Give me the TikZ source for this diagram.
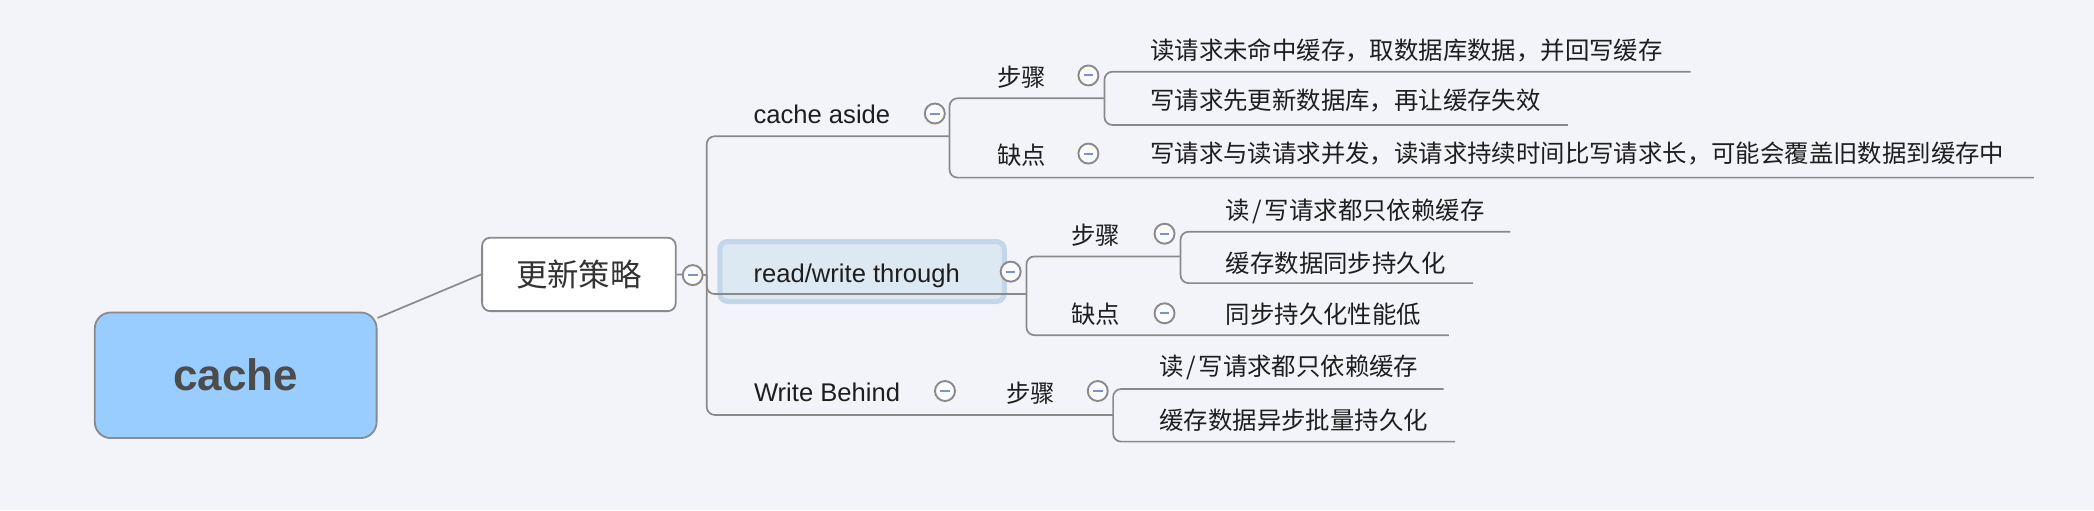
\documentclass[tikz,border=0pt]{standalone}
\usepackage{fontspec}
\setmainfont{Liberation Sans}
\newfontfamily\cjk{Noto Sans CJK SC}
\definecolor{bg}{HTML}{F3F4F9}
\definecolor{ln}{HTML}{8A8A8A}
\definecolor{cacheblue}{HTML}{99CCFF}
\definecolor{rwfill}{HTML}{DCE8F2}
\definecolor{rwedge}{HTML}{C4D6EA}
\definecolor{dashc}{HTML}{8090C8}
\definecolor{txt}{HTML}{1E1E1E}
\tikzset{
  conn/.style={draw=ln, line width=0.85pt, rounded corners=4pt},
  lat/.style={font=\fontsize{12.8pt}{14pt}\selectfont, text=txt, inner sep=0pt, anchor=base west},
  han/.style={font=\cjk\fontsize{12.2pt}{14pt}\selectfont, text=txt, inner sep=0pt, anchor=base west},
  fold/.style={circle, draw=ln, line width=0.95pt, fill=white!60!bg, minimum size=10pt, inner sep=0pt,
    path picture={\draw[dashc, line width=1pt] ([xshift=-2.4pt]path picture bounding box.center) -- ([xshift=2.4pt]path picture bounding box.center);}},
  rootbox/.style={rectangle, rounded corners=8pt, draw=ln, line width=0.9pt, fill=cacheblue,
    minimum width=140.9pt, minimum height=62.8pt, inner sep=0pt,
    font=\bfseries\fontsize{22pt}{24pt}\selectfont, text=black!70},
  updbox/.style={rectangle, rounded corners=4pt, draw=ln, line width=0.9pt, fill=white,
    minimum width=96.8pt, minimum height=36.7pt, inner sep=0pt,
    font=\cjk\fontsize{15.7pt}{17pt}\selectfont, text=black!80},
  rwbox/.style={rectangle, rounded corners=4pt, draw=rwedge, line width=2.5pt, fill=rwfill,
    minimum width=142.3pt, minimum height=30pt, inner sep=0pt},
}
\begin{document}
\begin{tikzpicture}[x=0.66775pt, y=-0.66775pt]
\useasboundingbox (0,0) rectangle (1568,382);
\fill[bg] (0,0) rectangle (1568,382);

% main nodes
\node[rootbox] (root) at (176.5,281) {cache};
\node[updbox] (upd) at (433.5,205.5) {更新策略};
\node[rwbox] (rw) at (645.5,203.3) {};

% text nodes
\node[lat] (rwt) at (564,211.4) {read/write through};
\node[lat] (ca) at (564,92.5) {cache aside};
\node[lat] (wb) at (564.3,301) {Write Behind};
\node[han] (cas) at (746.5,64.5) {步骤};
\node[han] (cad) at (746.5,123.5) {缺点};
\node[han] (rws) at (802,183) {步骤};
\node[han] (rwd) at (802,242) {缺点};
\node[han] (wbs) at (753.3,301.5) {步骤};
\node[han] (l1) at (861,44.5) {读请求未命中缓存，取数据库数据，并回写缓存};
\node[han] (l2) at (861,82) {写请求先更新数据库，再让缓存失效};
\node[han] (l3) at (861,122) {写请求与读请求并发，读请求持续时间比写请求长，可能会覆盖旧数据到缓存中};
\node[han] (l4) at (917.6,164) {读\kern1.3pt/\kern1.3pt写请求都只依赖缓存};
\node[han] (l5) at (917.6,204) {缓存数据同步持久化};
\node[han] (l6) at (917.6,242) {同步持久化性能低};
\node[han] (l7) at (868,281.5) {读\kern1.3pt/\kern1.3pt写请求都只依赖缓存};
\node[han] (l8) at (868,321.5) {缓存数据异步批量持久化};

% junction / end coordinates
\coordinate (t0) at (529.2,206);
\coordinate (caE) at (711,102);
\coordinate (rwE) at (768.6,220.2);
\coordinate (wbE) at (833.5,310.7);
\coordinate (casE) at (827,73.6);
\coordinate (cadE) at (1523,133);
\coordinate (rwsE) at (884,192);
\coordinate (rwdE) at (1085,251);
\coordinate (l1E) at (1266,53.7);
\coordinate (l2E) at (1174,93.6);
\coordinate (l4E) at (1131,173.5);
\coordinate (l5E) at (1103,212);
\coordinate (l7E) at (1081,291.3);
\coordinate (l8E) at (1089.6,330.7);

% connectors
\draw[draw=ln, line width=0.85pt] (root.22) -- (upd.west);
\draw[conn] (upd.east) -- (t0);
\draw[conn] (t0) |- (caE);
\draw[conn] (t0) |- (rwE);
\draw[conn] (t0) |- (wbE);
\draw[conn] (caE) |- (casE);
\draw[conn] (caE) |- (cadE);
\draw[conn] (casE) |- (l1E);
\draw[conn] (casE) |- (l2E);
\draw[conn] (rwE) |- (rwsE);
\draw[conn] (rwE) |- (rwdE);
\draw[conn] (rwsE) |- (l4E);
\draw[conn] (rwsE) |- (l5E);
\draw[conn] (wbE) |- (l7E);
\draw[conn] (wbE) |- (l8E);

% fold markers
\node[fold] (f0) at (518.7,206) {};
\node[fold] (fca) at (700,85) {};
\node[fold] (frw) at (756.8,203.4) {};
\node[fold] (fwb) at (707.6,292.8) {};
\node[fold] (fcas) at (815,56.5) {};
\node[fold] (fcad) at (815,115) {};
\node[fold] (frws) at (872,175) {};
\node[fold] (frwd) at (872,234.6) {};
\node[fold] (fwbs) at (822,292.8) {};
\end{tikzpicture}
\end{document}
